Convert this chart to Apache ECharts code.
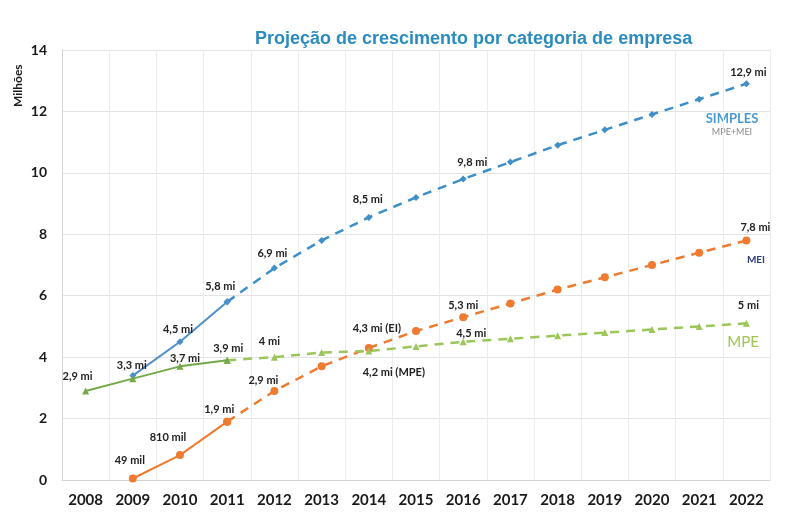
<!DOCTYPE html>
<html><head><meta charset="utf-8">
<script src="https://cdn.jsdelivr.net/npm/echarts@6/dist/echarts.min.js"></script>
<style>html,body{margin:0;padding:0;background:#fff}#c{width:798px;height:514px}</style>
</head><body><div id="c"></div>
<script>
// ---- data ----
const years = ['2008','2009','2010','2011','2012','2013','2014','2015','2016','2017','2018','2019','2020','2021','2022'];
const simples = [null, 3.4, 4.5, 5.8, 6.9, 7.8, 8.55, 9.2, 9.8, 10.35, 10.9, 11.4, 11.9, 12.4, 12.9];
const mei     = [null, 0.049, 0.81, 1.9, 2.9, 3.7, 4.3, 4.85, 5.3, 5.75, 6.2, 6.6, 7.0, 7.4, 7.8];
const mpe     = [2.9, 3.3, 3.7, 3.9, 4.0, 4.15, 4.2, 4.35, 4.5, 4.6, 4.7, 4.8, 4.9, 5.0, 5.1];
const simplesLabels = ['', '', '4,5 mi', '5,8 mi', '6,9 mi', '', '8,5 mi', '', '9,8 mi', '', '', '', '', '', '12,9 mi'];
const meiLabels     = ['', '49 mil', '810 mil', '1,9 mi', '2,9 mi', '', '4,3 mi (EI)', '', '5,3 mi', '', '', '', '', '', '7,8 mi'];
const mpeLabels     = ['2,9 mi', '3,3 mi', '3,7 mi', '3,9 mi', '4 mi', '', '4,2 mi (MPE)', '', '4,5 mi', '', '', '', '', '', '5 mi'];
const yTicks = [0, 2, 4, 6, 8, 10, 12, 14];
const lastActual = 3; // index of 2011: solid line up to here, projection dashed after

// ---- label placement (styling, px offsets from the point) ----
const simplesOff = {2:[-2,-12], 3:[-7,-15], 4:[-2,-15], 6:[-1,-18], 8:[9,-17], 14:[2,-11]};
const meiOff     = {1:[-3,-18], 2:[-12,-18], 3:[-8,-12], 4:[-11,-10], 6:[8,-19], 8:[0,-12], 14:[9,-13]};
const mpeOff     = {0:[-8,-14], 1:[-1,-13], 2:[5,-8], 3:[1,-12], 4:[-5,-16], 6:[25,21], 8:[8,-8], 14:[2,-18]};

const labelStyle = {fontFamily: 'Lato', fontWeight: 'bold', fontSize: 11, color: '#222'};

function item(v, txt, off) {
  if (v === null) return '-';
  if (!txt) return v;
  return {value: v, label: Object.assign({show: true, formatter: txt, position: 'inside', offset: off || [0, -12]}, labelStyle)};
}
function part(values, labels, offs, solid) {
  return values.map((v, i) => {
    const inRange = solid ? i <= lastActual : i >= lastActual;
    if (!inRange) return '-';
    const useLabel = solid ? true : i > lastActual;
    return item(v, useLabel ? labels[i] : '', offs[i]);
  });
}
function mk(name, values, labels, offs, colSolid, colDash, symbol, size) {
  return [
    {name: name, type: 'line', data: part(values, labels, offs, true), symbol: symbol, symbolSize: size,
     lineStyle: {color: colSolid, width: 2}, itemStyle: {color: colSolid}, z: 3, connectNulls: false},
    {name: name + ' proj', type: 'line', data: part(values, labels, offs, false), symbol: symbol, symbolSize: size,
     lineStyle: {color: colDash, width: 2.5, type: [9, 7]}, itemStyle: {color: colDash}, z: 2, connectNulls: false}
  ];
}

const chart = echarts.init(document.getElementById('c'));
chart.setOption({
  backgroundColor: '#fff',
  animation: false,
  title: {
    text: 'Projeção de crescimento por categoria de empresa',
    left: 250, top: 25,
    textStyle: {fontFamily: 'Liberation Sans', fontWeight: 'bold', fontSize: 18, color: '#2a8bbf'}
  },
  grid: {left: 62, right: 28, top: 50, bottom: 34, containLabel: false},
  xAxis: {
    type: 'category', data: years, boundaryGap: true,
    axisLine: {lineStyle: {color: '#d4d4d4'}},
    axisTick: {show: false},
    axisLabel: {fontFamily: 'Lato', fontWeight: 'bold', fontSize: 15, color: '#1a1a1a', margin: 13},
    splitLine: {show: true, lineStyle: {color: '#ececec'}}
  },
  yAxis: {
    type: 'value', min: yTicks[0], max: yTicks[yTicks.length - 1], interval: 2,
    axisLine: {show: true, lineStyle: {color: '#d4d4d4'}},
    axisTick: {show: false},
    axisLabel: {fontFamily: 'Lato', fontWeight: 'bold', fontSize: 14, color: '#1a1a1a', margin: 15},
    splitLine: {lineStyle: {color: '#e3e3e3'}}
  },
  graphic: [
    {type: 'text', x: 12, y: 107, rotation: Math.PI / 2,
     style: {text: 'Milhões', fontFamily: 'Lato', fontWeight: 'bold', fontSize: 12, fill: '#1a1a1a'}},
    {type: 'text', x: 732, y: 119, style: {text: 'SIMPLES', align: 'center', verticalAlign: 'middle', fontFamily: 'Lato', fontWeight: 'bold', fontSize: 13, fill: '#4a9ad4'}},
    {type: 'text', x: 732, y: 132, style: {text: 'MPE+MEI', align: 'center', verticalAlign: 'middle', fontFamily: 'Lato', fontSize: 9, fill: '#8a8a8a'}},
    {type: 'text', x: 756, y: 260, style: {text: 'MEI', align: 'center', verticalAlign: 'middle', fontFamily: 'Lato', fontWeight: 'bold', fontSize: 10, fill: '#2c3d7a'}},
    {type: 'text', x: 743, y: 342, style: {text: 'MPE', align: 'center', verticalAlign: 'middle', fontFamily: 'Lato', fontSize: 15, fill: '#9cc64f'}}
  ],
  series: [].concat(
    mk('SIMPLES', simples, simplesLabels, simplesOff, '#4f8fcb', '#3d8fc9', 'diamond', 7),
    mk('MEI', mei, meiLabels, meiOff, '#ee7b30', '#ee7b30', 'circle', 8),
    mk('MPE', mpe, mpeLabels, mpeOff, '#74a848', '#9bc65a', 'triangle', 7)
  )
});
</script>
</body></html>
